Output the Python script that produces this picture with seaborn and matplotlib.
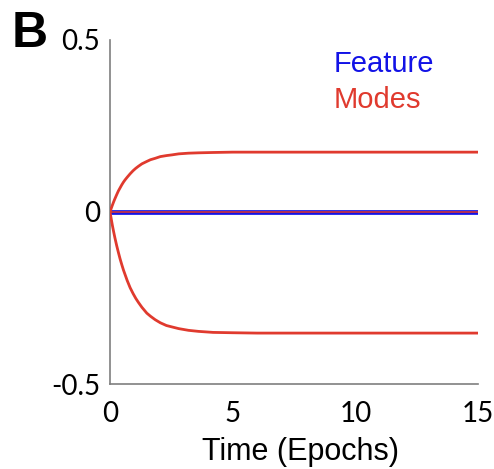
import matplotlib
matplotlib.use("Agg")
import matplotlib.pyplot as plt
import seaborn as sns
import pandas as pd

# Time axis (epochs) and trajectories of the projected weights
time = [0, 0.05, 0.1, 0.15, 0.2, 0.27, 0.34, 0.41, 0.48, 0.55, 0.61, 0.7,
        0.82, 0.94, 1.05, 1.16, 1.3, 1.5, 1.65, 1.84, 2.05, 2.3, 2.52, 2.8,
        3.2, 3.6, 4.2, 5, 6, 7.5, 10, 12.5, 15]
mode_up = [0, 0.0105, 0.0204, 0.0298, 0.0385, 0.050, 0.061, 0.070, 0.079,
           0.087, 0.093, 0.101, 0.111, 0.120, 0.127, 0.133, 0.140, 0.147,
           0.152, 0.156, 0.161, 0.164, 0.166, 0.169, 0.171, 0.172, 0.173,
           0.174, 0.174, 0.174, 0.174, 0.174, 0.174]
mode_down = [0, -0.020, -0.040, -0.058, -0.075, -0.097, -0.117, -0.136,
             -0.153, -0.169, -0.181, -0.199, -0.220, -0.237, -0.251, -0.263,
             -0.277, -0.294, -0.303, -0.313, -0.322, -0.330, -0.334, -0.339,
             -0.344, -0.347, -0.350, -0.351, -0.352, -0.352, -0.352, -0.352,
             -0.352]
mode_flat = [0.0] * len(time)
feature = [0.0] * len(time)

series_names = ["Feature", "Modes"]
series_colors = {"Feature": "#1212e6", "Modes": "#e03a2e"}
x_ticks = [0, 5, 10, 15]
y_ticks = [-0.5, 0, 0.5]
y_ticklabels = ["-0.5", "0", "0.5"]

sns.set_style("white")
plt.rcParams["font.family"] = ["Lato", "DejaVu Sans"]
for key in ["text.color", "axes.labelcolor", "xtick.labelcolor", "ytick.labelcolor"]:
    plt.rcParams[key] = "black"

rows = []
for t, v in zip(time, feature):
    rows.append({"time": t, "value": v, "kind": "Feature", "unit": "f0"})
for name, vals in [("m_up", mode_up), ("m_down", mode_down), ("m_flat", mode_flat)]:
    for t, v in zip(time, vals):
        rows.append({"time": t, "value": v, "kind": "Modes", "unit": name})
df = pd.DataFrame(rows)

fig = plt.figure(figsize=(4.94, 4.69), dpi=100)
ax = fig.add_axes([110 / 494, 85 / 469, 368 / 494, 344 / 469])

modes = df[df["kind"] == "Modes"]
feat = df[df["kind"] == "Feature"]
sns.lineplot(data=feat, x="time", y="value", color=series_colors["Feature"],
             lw=3.4, ax=ax, zorder=2)
for u, lw, z in [("m_up", 2.0, 3), ("m_down", 2.0, 3), ("m_flat", 1.1, 4)]:
    sub = modes[modes["unit"] == u]
    sns.lineplot(data=sub, x="time", y="value", color=series_colors["Modes"],
                 lw=lw, ax=ax, zorder=z)

ax.set_xlim(0, 15)
ax.set_ylim(-0.5, 0.5)
ax.set_xticks(x_ticks)
ax.set_yticks(y_ticks)
ax.set_yticklabels(y_ticklabels)
ax.set_xlabel("Time (Epochs)", fontsize=22,
              family=["Liberation Sans", "DejaVu Sans"])
ax.xaxis.set_label_coords(0.518, -(437 - 384) / 344)
ax.set_ylabel("")
ax.tick_params(direction="in", length=5, width=1.1, color="#7f7f7f",
               labelsize=20)
ax.tick_params(axis="x", pad=12)
ax.tick_params(axis="y", pad=7)
for side in ["top", "right"]:
    ax.spines[side].set_visible(False)
for side in ["left", "bottom"]:
    ax.spines[side].set_color("#7f7f7f")
    ax.spines[side].set_linewidth(1.2)

# Legend as coloured text only
handles = [plt.Line2D([], [], color=series_colors[n], lw=0) for n in series_names]
leg = ax.legend(handles, series_names, loc="upper left",
                bbox_to_anchor=(334 / 494, 1 - 50 / 469),
                bbox_transform=fig.transFigure, frameon=False, borderpad=0,
                borderaxespad=0, handlelength=0, handletextpad=0,
                labelspacing=0.27, labelcolor="linecolor",
                prop={"family": ["Liberation Sans", "DejaVu Sans"], "size": 21})

fig.text(12 / 494, 1 - 47 / 469, "B", fontsize=36, va="baseline", ha="left",
         fontweight="bold", family=["Liberation Sans", "DejaVu Sans"])

fig.savefig("out.png", dpi=100)
